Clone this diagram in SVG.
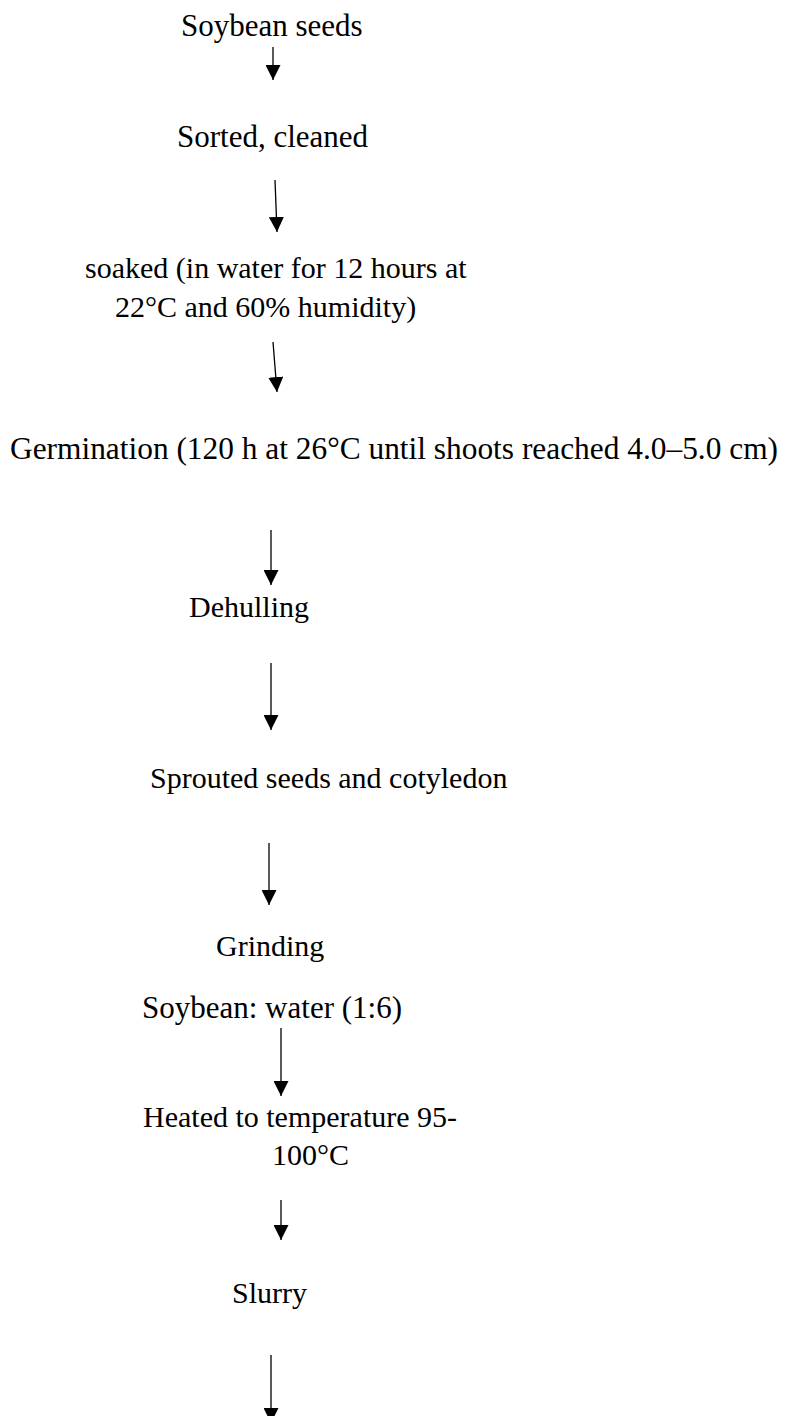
<svg xmlns="http://www.w3.org/2000/svg" width="799" height="1416" viewBox="0 0 799 1416">
<defs>
<marker id="ah" viewBox="0 0 10 10" refX="10" refY="5" markerWidth="15" markerHeight="15" markerUnits="userSpaceOnUse" orient="auto">
<path d="M0,0 L10,5 L0,10 Z" fill="#000"/>
</marker>
<style>
.c line{stroke:#000;stroke-width:1.3;marker-end:url(#ah)}
</style>
</defs>
<rect width="799" height="1416" fill="#fff"/>
<g font-family="'Liberation Serif', 'Times New Roman', serif" font-size="30" fill="#000">
<g id="n1"><text x="181" y="36" font-size="31">Soybean seeds</text></g>
<g id="n2"><text x="177" y="147" font-size="31">Sorted, cleaned</text></g>
<g id="n3"><text x="85" y="278">soaked (in water for 12 hours at</text><text x="115" y="317">22°C and 60% humidity)</text></g>
<g id="n4"><text x="10" y="459" font-size="32" textLength="768" lengthAdjust="spacingAndGlyphs">Germination (120 h at 26°C until shoots reached 4.0–5.0 cm)</text></g>
<g id="n5"><text x="189" y="617">Dehulling</text></g>
<g id="n6"><text x="150" y="788">Sprouted seeds and cotyledon</text></g>
<g id="n7"><text x="216" y="956">Grinding</text></g>
<g id="n8"><text x="142" y="1018" font-size="31">Soybean: water (1:6)</text></g>
<g id="n9"><text x="143" y="1127">Heated to temperature 95-</text><text x="272" y="1165">100°C</text></g>
<g id="n10"><text x="232" y="1303">Slurry</text></g>
</g>
<g class="c" id="connectors">
<line x1="273" y1="47" x2="273" y2="80"/>
<line x1="275" y1="180" x2="277" y2="232"/>
<line x1="273" y1="342" x2="277" y2="392"/>
<line x1="271" y1="530" x2="271" y2="585"/>
<line x1="271" y1="663" x2="271" y2="730"/>
<line x1="269" y1="843" x2="269" y2="905"/>
<line x1="281" y1="1028" x2="281" y2="1096"/>
<line x1="281" y1="1200" x2="281" y2="1240"/>
<line x1="271" y1="1355" x2="271" y2="1423"/>
</g>
</svg>
